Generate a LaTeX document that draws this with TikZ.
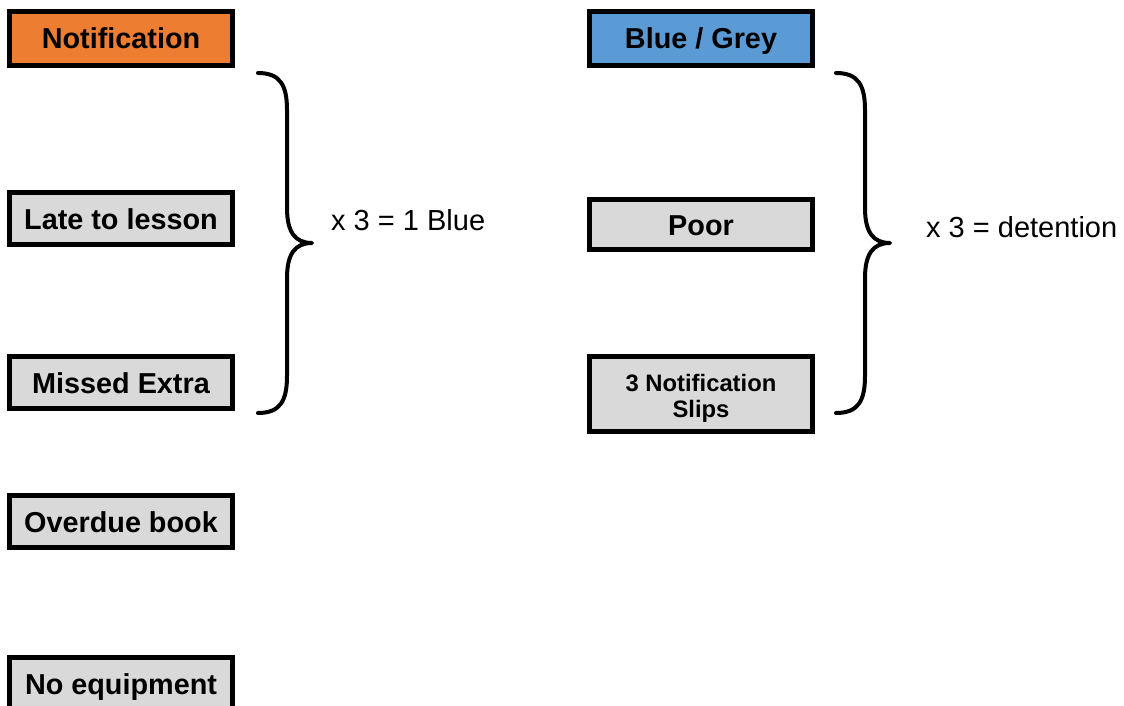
\documentclass[tikz,border=0pt]{standalone}
\usepackage{fontspec}
\setmainfont{Liberation Sans}
\definecolor{orangefill}{HTML}{ED7D31}
\definecolor{bluefill}{HTML}{5B9BD5}
\definecolor{greyfill}{HTML}{D9D9D9}
\begin{document}
\begin{tikzpicture}[x=1pt,y=-1pt,
  box/.style={draw=black,line width=5pt,fill=greyfill,inner sep=0pt,minimum width=223pt,
    font=\fontsize{28.8}{32}\selectfont\bfseries,align=center,text height=24pt,text depth=3pt},
  smalltext/.style={inner sep=0pt,align=center,font=\fontsize{23.8}{26}\selectfont\bfseries},
  bracestyle/.style={line width=4pt,line cap=round,line join=round},
  note/.style={anchor=west,inner sep=0pt,font=\fontsize{29}{32}\selectfont}]
\useasboundingbox (0,0) rectangle (1124,706);
\begin{scope}
\clip (0,0) rectangle (1124,706);
\node[box,fill=orangefill,minimum height=54pt] (notif) at (121,38.5) {Notification};
\node[box,fill=bluefill,minimum height=54pt] (bluegrey) at (701,38.5) {Blue / Grey};
\node[box,minimum height=52pt] (late) at (121,218.5) {Late to lesson};
\node[box,minimum height=52pt] (missed) at (121,382.5) {Missed Extra};
\node[box,minimum height=52pt] (overdue) at (121,521.5) {Overdue book};
\node[box,minimum height=52pt] (noequip) at (121,683.5) {No equipment};
\node[box,minimum height=50pt] (poor) at (701,224.5) {Poor};
\node[box,minimum height=75pt] (slips) at (701,393.5) {};
\node[smalltext] (slipstext) at ([yshift=-5pt]slips.center) {3 Notification\\Slips};
\end{scope}
\node[note] (leftnote) at (331,220) {x 3 = 1 Blue};
\node[note] (rightnote) at (926,227) {x 3 = detention};
\draw[bracestyle] (258,73) .. controls (280,73) and (287,85) .. (287,110) -- (287,208)
  .. controls (287,232) and (295,243) .. (312,243)
  .. controls (295,243) and (287,254) .. (287,278) -- (287,376)
  .. controls (287,401) and (280,413) .. (258,413);
\begin{scope}[xshift=578pt]
\draw[bracestyle] (258,73) .. controls (280,73) and (287,85) .. (287,110) -- (287,208)
  .. controls (287,232) and (295,243) .. (312,243)
  .. controls (295,243) and (287,254) .. (287,278) -- (287,376)
  .. controls (287,401) and (280,413) .. (258,413);
\end{scope}
\end{tikzpicture}
\end{document}
